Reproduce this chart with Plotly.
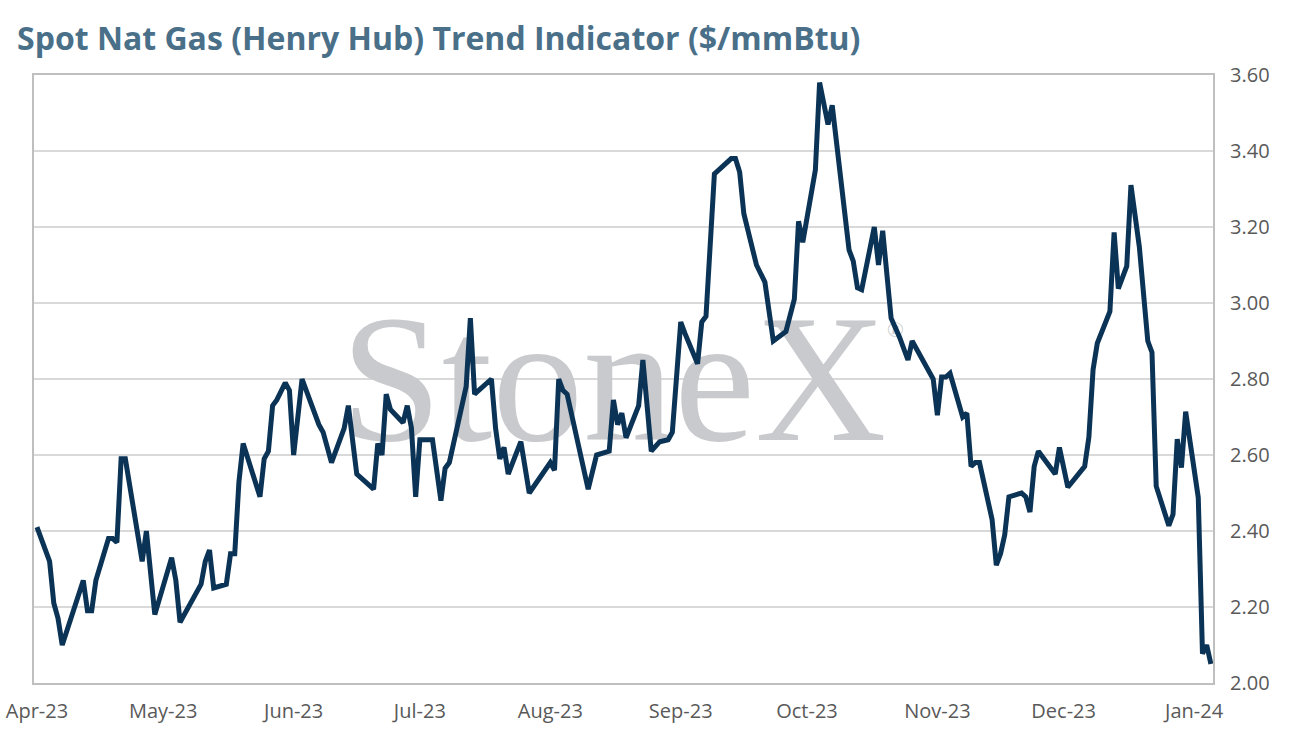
import plotly.graph_objects as go

# Henry Hub spot trend indicator
dates = [
    "2023-04-01", "2023-04-04", "2023-04-05", "2023-04-06", "2023-04-07",
    "2023-04-12", "2023-04-13", "2023-04-14", "2023-04-15", "2023-04-18",
    "2023-04-19", "2023-04-20", "2023-04-21", "2023-04-22", "2023-04-26",
    "2023-04-27", "2023-04-29", "2023-05-03", "2023-05-04", "2023-05-05",
    "2023-05-10", "2023-05-11", "2023-05-12", "2023-05-13", "2023-05-16",
    "2023-05-17", "2023-05-18", "2023-05-19", "2023-05-20", "2023-05-24",
    "2023-05-25", "2023-05-26", "2023-05-27", "2023-05-28", "2023-05-30",
    "2023-05-31", "2023-06-01", "2023-06-03", "2023-06-05", "2023-06-07",
    "2023-06-08", "2023-06-10", "2023-06-13", "2023-06-14", "2023-06-16",
    "2023-06-17", "2023-06-20", "2023-06-21", "2023-06-22", "2023-06-23",
    "2023-06-24", "2023-06-27", "2023-06-28", "2023-06-29", "2023-06-30",
    "2023-07-01", "2023-07-04", "2023-07-06", "2023-07-07", "2023-07-08",
    "2023-07-12", "2023-07-13", "2023-07-14", "2023-07-18", "2023-07-19",
    "2023-07-20", "2023-07-21", "2023-07-22", "2023-07-25", "2023-07-27",
    "2023-07-29", "2023-08-01", "2023-08-02", "2023-08-03", "2023-08-04",
    "2023-08-05", "2023-08-10", "2023-08-12", "2023-08-15", "2023-08-16",
    "2023-08-17", "2023-08-18", "2023-08-19", "2023-08-22", "2023-08-23",
    "2023-08-25", "2023-08-27", "2023-08-29", "2023-08-30", "2023-09-01",
    "2023-09-02", "2023-09-05", "2023-09-06", "2023-09-07", "2023-09-09",
    "2023-09-13", "2023-09-14", "2023-09-15", "2023-09-16", "2023-09-19",
    "2023-09-21", "2023-09-23", "2023-09-26", "2023-09-28", "2023-09-29",
    "2023-09-30", "2023-10-03", "2023-10-04", "2023-10-06", "2023-10-07",
    "2023-10-11", "2023-10-12", "2023-10-13", "2023-10-14", "2023-10-17",
    "2023-10-18", "2023-10-19", "2023-10-21", "2023-10-23", "2023-10-25",
    "2023-10-26", "2023-10-31", "2023-11-01", "2023-11-02", "2023-11-03",
    "2023-11-04", "2023-11-07", "2023-11-08", "2023-11-09", "2023-11-10",
    "2023-11-11", "2023-11-14", "2023-11-15", "2023-11-16", "2023-11-17",
    "2023-11-18", "2023-11-21", "2023-11-22", "2023-11-23", "2023-11-24",
    "2023-11-25", "2023-11-29", "2023-11-30", "2023-12-02", "2023-12-06",
    "2023-12-07", "2023-12-08", "2023-12-09", "2023-12-12", "2023-12-13",
    "2023-12-14", "2023-12-16", "2023-12-17", "2023-12-19", "2023-12-21",
    "2023-12-22", "2023-12-23", "2023-12-26", "2023-12-27", "2023-12-28",
    "2023-12-29", "2023-12-30", "2024-01-02", "2024-01-03", "2024-01-04",
    "2024-01-05",
]
prices = [
    2.41, 2.32, 2.21, 2.17, 2.10,
    2.27, 2.19, 2.19, 2.27, 2.38,
    2.38, 2.37, 2.59, 2.59, 2.32,
    2.40, 2.18, 2.33, 2.27, 2.16,
    2.26, 2.32, 2.35, 2.25, 2.26,
    2.34, 2.34, 2.53, 2.63, 2.49,
    2.59, 2.61, 2.73, 2.745, 2.79,
    2.77, 2.60, 2.80, 2.74, 2.68,
    2.66, 2.58, 2.67, 2.73, 2.55,
    2.54, 2.51, 2.63, 2.60, 2.76,
    2.72, 2.685, 2.73, 2.67, 2.49,
    2.64, 2.64, 2.48, 2.565, 2.58,
    2.78, 2.96, 2.76, 2.80, 2.67,
    2.59, 2.62, 2.55, 2.635, 2.50,
    2.53, 2.58, 2.56, 2.80, 2.77,
    2.76, 2.51, 2.60, 2.61, 2.745,
    2.68, 2.71, 2.645, 2.73, 2.85,
    2.61, 2.635, 2.64, 2.66, 2.95,
    2.92, 2.84, 2.95, 2.965, 3.34,
    3.38, 3.38, 3.345, 3.235, 3.10,
    3.055, 2.90, 2.925, 3.01, 3.215,
    3.16, 3.35, 3.58, 3.47, 3.52,
    3.14, 3.11, 3.04, 3.035, 3.20,
    3.10, 3.19, 2.96, 2.91, 2.85,
    2.90, 2.80, 2.705, 2.805, 2.805,
    2.815, 2.70, 2.71, 2.57, 2.58,
    2.58, 2.43, 2.31, 2.34, 2.39,
    2.49, 2.50, 2.49, 2.45, 2.57,
    2.61, 2.55, 2.62, 2.515, 2.57,
    2.647, 2.825, 2.894, 2.978, 3.186,
    3.038, 3.097, 3.31, 3.147, 2.90,
    2.87, 2.518, 2.414, 2.444, 2.642,
    2.567, 2.714, 2.488, 2.077, 2.10,
    2.05,
]

month_ticks = ["2023-04-01", "2023-05-01", "2023-06-01", "2023-07-01", "2023-08-01",
               "2023-09-01", "2023-10-01", "2023-11-01", "2023-12-01", "2024-01-01"]
price_ticks = [2.0, 2.2, 2.4, 2.6, 2.8, 3.0, 3.2, 3.4, 3.6]

fig = go.Figure()

# watermark sits behind the line
fig.add_trace(go.Scatter(
    x=["2023-08-16", "2023-10-22"], y=[2.76, 2.925],
    mode="text", text=["StoneX", "®"],
    textfont=dict(family="Liberation Serif", size=[182, 22], color="#c9cacd"),
    hoverinfo="skip", showlegend=False,
))

fig.add_trace(go.Scatter(
    x=dates, y=prices, mode="lines",
    line=dict(color="#0b3356", width=5),
    showlegend=False,
))

fig.update_layout(
    width=1290, height=741,
    margin=dict(l=34, r=77, t=75, b=58),
    paper_bgcolor="white", plot_bgcolor="white",
    font=dict(family="Open Sans", color="#595959", size=20),
    title=dict(text="<b>Spot Nat Gas (Henry Hub) Trend Indicator ($/mmBtu)</b>",
               x=17 / 1290, xref="container", xanchor="left",
               y=1 - 39 / 741, yref="container", yanchor="middle",
               font=dict(family="Open Sans", size=32, color="#4a7089")),
)
fig.update_xaxes(
    range=["2023-03-31 07:00", "2024-01-05 12:00"],
    tickvals=month_ticks, tickformat="%b-%y", automargin=False,
    ticklabeloverflow="allow",
    showgrid=False, showline=True, linecolor="#bfbfbf", linewidth=2,
    mirror=True, ticks="", ticklabelstandoff=9,
)
fig.update_yaxes(
    side="right", range=[2.0, 3.6], tickvals=price_ticks, tickformat=".2f",
    automargin=False,
    showgrid=True, gridcolor="#d9d9d9", gridwidth=1.5,
    showline=True, linecolor="#bfbfbf", linewidth=2, mirror=True,
    ticks="", ticklabelstandoff=11, zeroline=False,
)

# drop the default 8px body margin so the figure fills the window
fig.write_html("out.html", config={"displayModeBar": False},
               post_script="document.body.style.margin = '0';")
